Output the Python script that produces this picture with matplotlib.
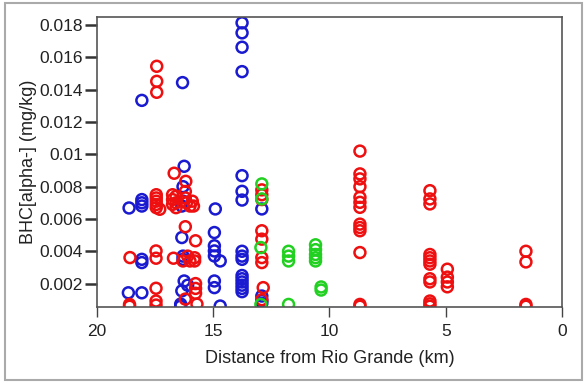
import matplotlib
matplotlib.use("Agg")
import matplotlib.pyplot as plt
from matplotlib.patches import Rectangle

plt.rcParams['font.family'] = ['Liberation Sans', 'DejaVu Sans']

# blue sites
blue_x = [18.07, 16.32, 13.76, 13.76, 13.76, 13.76,
          18.62, 18.07, 18.07, 18.07,
          16.25, 16.3, 16.35, 16.3, 16.35,
          18.07, 18.07, 16.3, 16.3,
          14.91, 14.95, 14.95, 14.95, 14.95, 14.7,
          14.95, 14.95, 14.7,
          18.65, 18.07, 16.25, 16.1, 16.35, 16.4, 16.4,
          13.76, 13.76, 13.76,
          13.76, 13.76, 13.76,
          13.76, 13.76, 13.76, 13.76, 13.76, 13.76,
          12.91, 12.91, 12.91, 12.91]
blue_y = [0.01334, 0.01444, 0.01814, 0.01752, 0.01663, 0.01512,
          0.00668, 0.0072, 0.0070, 0.0068,
          0.00926, 0.0080, 0.0068, 0.0071, 0.00485,
          0.0035, 0.0033, 0.0037, 0.0035,
          0.00662, 0.00516, 0.00434, 0.00402, 0.00371, 0.0034,
          0.00216, 0.00175, 0.00061,
          0.00143, 0.00143, 0.00216, 0.0019, 0.00155, 0.00073, 0.0006,
          0.00868, 0.00771, 0.00717,
          0.0040, 0.0037, 0.0035,
          0.0025, 0.0023, 0.0021, 0.0019, 0.0017, 0.0015,
          0.00662, 0.00123, 0.00095, 0.00078]

# red sites
red_x = [17.43, 17.43, 17.43, 16.68, 16.18,
         17.45, 17.45, 17.45, 17.45, 17.45, 17.3,
         16.75, 16.75, 16.75, 16.6, 16.6, 16.6,
         16.2, 16.2, 16.15, 16.0, 15.85, 15.9,
         16.2, 15.76, 18.58, 17.46, 17.46, 16.71,
         16.1, 16.0, 15.8, 15.8, 16.3,
         17.46, 18.6, 18.6, 17.46, 17.46,
         15.76, 15.76, 15.76, 16.2, 15.7,
         12.91, 12.91, 12.91, 12.91, 12.91, 12.91, 12.91, 12.85, 12.91,
         8.69, 8.69, 8.69, 8.69, 8.69, 8.69, 8.69, 8.69, 8.69, 8.69, 8.69, 8.69, 8.69,
         5.68, 5.68, 5.68, 5.68, 5.68, 5.68, 5.68, 5.68, 5.68, 5.68, 5.68, 5.68,
         4.93, 4.93, 4.93, 4.93,
         1.55, 1.55, 1.55, 1.55]
red_y = [0.01545, 0.01452, 0.01384, 0.00883, 0.00833,
         0.0075, 0.0073, 0.0071, 0.0069, 0.0067, 0.0066,
         0.0075, 0.0072, 0.0069, 0.0074, 0.0070, 0.0067,
         0.0077, 0.0073, 0.0070, 0.0068, 0.0068, 0.0071,
         0.00552, 0.00465, 0.00361, 0.00402, 0.00357, 0.00357,
         0.0037, 0.0034, 0.0036, 0.0034, 0.0034,
         0.00171, 0.00071, 0.0006, 0.00092, 0.00067,
         0.0020, 0.0017, 0.0014, 0.00104, 0.00073,
         0.0078, 0.0075, 0.0072, 0.00527, 0.00475, 0.00361, 0.0033, 0.00175, 0.0010,
         0.0102, 0.00879, 0.00848, 0.0080, 0.00734, 0.00703, 0.00672, 0.00568, 0.00547, 0.00527, 0.00392, 0.00071, 0.0006,
         0.00775, 0.00724, 0.00693, 0.0038, 0.0036, 0.0034, 0.0032, 0.0023, 0.0021, 0.00092, 0.00075, 0.0006,
         0.00289, 0.0024, 0.0021, 0.0018,
         0.0040, 0.00334, 0.00071, 0.0006]

# green sites
green_x = [12.91, 12.91, 12.95, 12.95,
           11.76, 11.76, 11.76, 11.76,
           10.6, 10.6, 10.6, 10.6, 10.6,
           10.36, 10.36]
green_y = [0.00817, 0.00724, 0.00423, 0.00071,
           0.00071, 0.0040, 0.0037, 0.0034,
           0.0044, 0.0041, 0.0038, 0.0036, 0.0034,
           0.00179, 0.0016]

fig = plt.figure(figsize=(5.86, 3.84), dpi=100)
ax = fig.add_axes([0.1655, 0.2005, 0.7935, 0.7552])

kw = dict(s=62, facecolors='none', linewidths=1.8)
ax.scatter(blue_x, blue_y, edgecolors='#1a1ad0', **kw)
ax.scatter(red_x, red_y, edgecolors='#ee1010', **kw)
ax.scatter(green_x, green_y, edgecolors='#22d022', **kw)

ax.set_xlim(20, 0)
ax.set_ylim(0.00055, 0.0185)
ax.set_xticks([20, 15, 10, 5, 0])
ax.set_yticks([0.002, 0.004, 0.006, 0.008, 0.01, 0.012, 0.014, 0.016, 0.018])
ax.set_yticklabels(['0.002', '0.004', '0.006', '0.008', '0.01', '0.012', '0.014', '0.016', '0.018'])
ax.tick_params(axis='x', labelsize=12.5, length=7, width=1.0, pad=5,
               color='#444444', labelcolor='#222222')
ax.tick_params(axis='y', labelsize=12.5, length=9, width=1.8, pad=1,
               color='#333333', labelcolor='#222222')

for s in ax.spines.values():
    s.set_color('#555555')
    s.set_linewidth(1.2)

ax.set_xlabel('Distance from Rio Grande (km)', fontsize=13, color='#222222', labelpad=8)
ax.set_ylabel('BHC[alpha-] (mg/kg)', fontsize=13, color='#222222', labelpad=2)

fig.patches.append(Rectangle((0.009, 0.01), 0.985, 0.982, transform=fig.transFigure,
                             fill=False, edgecolor='#aaaaaa', linewidth=1.5))

fig.savefig('out.png', dpi=100)
